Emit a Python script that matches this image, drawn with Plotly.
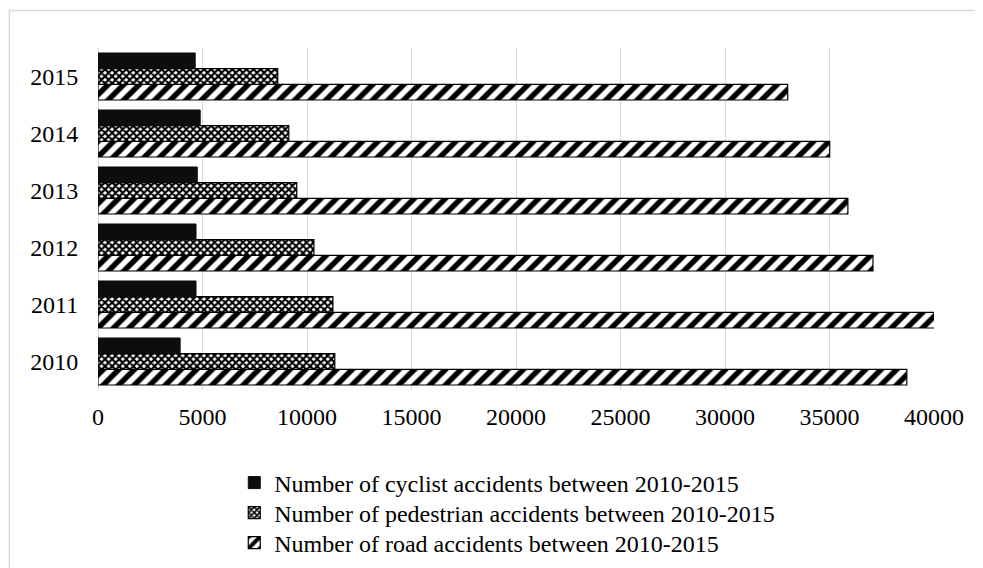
import plotly.graph_objects as go

years = ["2010", "2011", "2012", "2013", "2014", "2015"]
cyclist = [3930, 4690, 4690, 4750, 4890, 4650]
pedestrian = [11330, 11240, 10330, 9510, 9130, 8600]
road = [38700, 40050, 37080, 35880, 35010, 33000]

names = [
    "Number of cyclist accidents between 2010-2015",
    "Number of pedestrian accidents between 2010-2015",
    "Number of road accidents between 2010-2015",
]
xticks = [0, 5000, 10000, 15000, 20000, 25000, 30000, 35000, 40000]

FONT = "Liberation Serif, Times New Roman, serif"

fig = go.Figure()
fig.add_trace(go.Bar(
    y=years, x=road, orientation="h", name=names[2], legend="legend3",
    marker=dict(color="white", line=dict(color="black", width=1.2),
                pattern=dict(shape="/", size=11, solidity=0.5,
                             fgcolor="black", bgcolor="white", fillmode="replace")),
))
fig.add_trace(go.Bar(
    y=years, x=pedestrian, orientation="h", name=names[1], legend="legend2",
    marker=dict(color="white", line=dict(color="black", width=1.2),
                pattern=dict(shape="x", size=5, solidity=0.65,
                             fgcolor="black", bgcolor="white", fillmode="replace")),
))
fig.add_trace(go.Bar(
    y=years, x=cyclist, orientation="h", name=names[0], legend="legend",
    marker=dict(color="#0d0d0d", line=dict(color="#0d0d0d", width=1)),
))

leg_common = dict(orientation="v", x=0.163, xanchor="left", yanchor="middle",
                  font=dict(size=24), itemwidth=30, bgcolor="rgba(0,0,0,0)")
# plot area (page px): y from 48 (top) to 390 (bottom) -> 342 px
def ypaper(px):
    return (390 - px) / 342.0

fig.update_layout(
    width=983, height=568,
    margin=dict(l=90, r=57, t=40, b=186, autoexpand=False),
    paper_bgcolor="white", plot_bgcolor="white",
    barmode="group", bargap=0.175, bargroupgap=0,
    font=dict(family=FONT, size=24, color="black"),
    showlegend=True,
    legend=dict(leg_common, y=ypaper(483)),
    legend2=dict(leg_common, y=ypaper(513)),
    legend3=dict(leg_common, y=ypaper(543)),
    xaxis=dict(range=[0, 40000], tickvals=xticks, ticktext=[str(v) for v in xticks],
               showgrid=True, gridcolor="#d9d9d9", gridwidth=1,
               zeroline=True, zerolinecolor="#d9d9d9", zerolinewidth=1,
               showline=False, ticks="outside", ticklen=5, tickcolor="rgba(0,0,0,0)",
               tickfont=dict(size=24), automargin=False),
    yaxis=dict(showgrid=False, showline=False, ticks="outside", ticklen=14,
               tickcolor="rgba(0,0,0,0)", tickfont=dict(size=24), automargin=False),
    shapes=[dict(type="rect", xref="paper", yref="paper",
                 x0=-0.106, x1=1.2, y0=-0.7, y1=1.11,
                 line=dict(color="#d9d9d9", width=1.5), fillcolor="rgba(0,0,0,0)",
                 layer="below")],
)

fig.write_html("out.html")
